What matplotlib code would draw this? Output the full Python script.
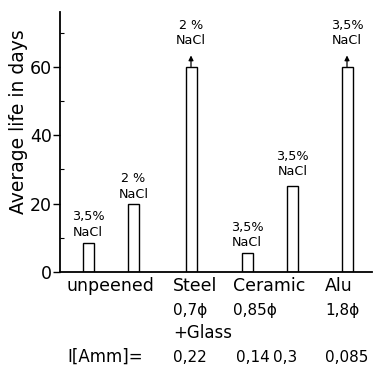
"""Average life of specimens for several peening media (bar chart with NaCl notes)."""
import matplotlib
matplotlib.use("Agg")
import matplotlib.pyplot as plt

# data
life_days = [8.5, 20, 60, 5.5, 25, 60]
nacl_notes = ["3,5%", "2 %", "2 %", "3,5%", "3,5%", "3,5%"]
still_running = [False, False, True, False, False, True]

media_labels = ["unpeened", "Steel", "Ceramic", "Alu"]
size_labels = ["0,7ϕ", "0,85ϕ", "1,8ϕ"]
extra_label = "+Glass"
current_label = "I[Amm]="
current_values = ["0,22", "0,14", "0,3", "0,085"]

y_ticks = [0, 20, 40, 60]
y_minor = [10, 30, 50, 70]

# layout (pixels of the 381x377 picture)
W, H = 381, 377
bar_x = [28, 73.5, 131, 187, 232.5, 287]
bar_w = 11
note_gap = [3, 2, 14, 3, 6, 14]
media_x = [67, 173, 233, 325]
size_x = [173, 233, 325]
current_x = [173, 236, 273, 325]

plt.rcParams["font.family"] = ["DejaVu Sans"]
fig = plt.figure(figsize=(W / 100, H / 100), dpi=100)
ax = fig.add_axes([60 / W, 1 - 272 / H, 312 / W, 260 / H])

ax.bar(bar_x, life_days, width=bar_w, facecolor="white", edgecolor="black", linewidth=1.0)

for x, v, note, run, gap in zip(bar_x, life_days, nacl_notes, still_running, note_gap):
    if run:
        ax.annotate("", xy=(x, v + 3.3), xytext=(x, v),
                    arrowprops=dict(arrowstyle="-|>", color="black", lw=0.9,
                                    mutation_scale=7, shrinkA=0, shrinkB=0))
    ax.annotate(note + "\nNaCl", xy=(x, v), xytext=(0, gap), textcoords="offset points",
                ha="center", va="bottom", fontsize=9.2, linespacing=1.25)

ax.set_xlim(0, 312)
ax.set_ylim(0, 76)
ax.set_xticks([])
ax.set_yticks(y_ticks)
ax.set_yticks(y_minor, minor=True)
ax.tick_params(axis="y", which="major", direction="out", length=5, width=1, labelsize=12.5, pad=1)
ax.tick_params(axis="y", which="minor", direction="in", length=3, width=0.8)
for s in ["top", "right"]:
    ax.spines[s].set_visible(False)
ax.spines["left"].set_linewidth(1.3)
ax.spines["bottom"].set_linewidth(1.3)

fig.text(19 / W, 1 - 122 / H, "Average life in days", rotation=90, ha="center", va="center",
         fontsize=13.5)


def ftext(x, y, s, size=12.5):
    fig.text(x / W, 1 - y / H, s, ha="left", va="center", fontsize=size)


for x, s in zip(media_x, media_labels):
    ftext(x, 286, s)
for x, s in zip(size_x, size_labels):
    ftext(x, 310, s, 11)
ftext(173, 333, extra_label, 12)
ftext(67, 357, current_label, 12)
for x, s in zip(current_x, current_values):
    ftext(x, 357, s, 11)

fig.savefig("out.png", dpi=100, facecolor="white")
